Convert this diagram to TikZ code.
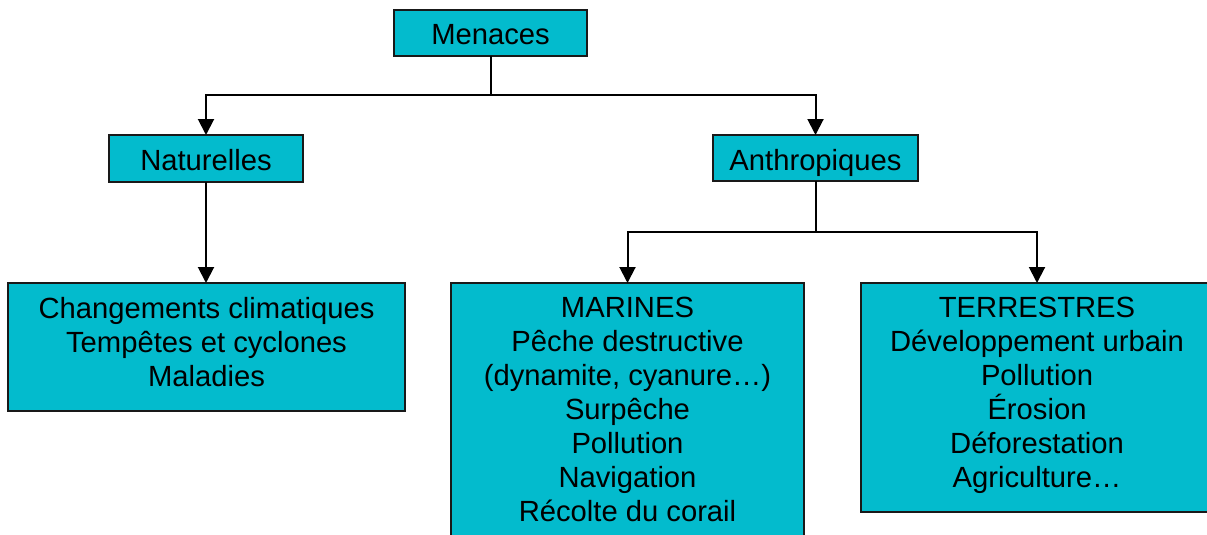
\documentclass[tikz,border=0pt]{standalone}
\usepackage{fontspec}
\setmainfont{Liberation Sans}
\usetikzlibrary{arrows.meta}
\definecolor{boxcyan}{RGB}{3,187,205}
\tikzset{
  box/.style={draw=black!90, line width=1.8pt, fill=boxcyan, inner sep=0pt, outer sep=0pt, anchor=north west},
  lbl/.style={font=\fontsize{29.2}{34}\selectfont, align=center, inner sep=0pt, anchor=north},
  conn/.style={line width=2pt, -{Triangle[width=16pt,length=16pt]}}
}
\begin{document}
\begin{tikzpicture}[x=1pt,y=-1pt]
\useasboundingbox (0,0) rectangle (1207,535);
\clip (0,0) rectangle (1207,535);
\fill[white] (0,0) rectangle (1207,535);
% boxes
\node[box, minimum width=193pt, minimum height=46pt] (m) at (394,10) {};
\node[box, minimum width=194pt, minimum height=47pt] (nat) at (109,135) {};
\node[box, minimum width=205pt, minimum height=46pt] (anth) at (713,135) {};
\node[box, minimum width=397pt, minimum height=128pt] (chg) at (8,283) {};
\node[box, minimum width=353pt, minimum height=270pt] (mar) at (451,283) {};
\node[box, minimum width=352pt, minimum height=229pt] (ter) at (861,283) {};
% labels
\node[lbl] (mt) at (490.5,24) {Menaces};
\node[lbl] (natt) at (206,149) {Naturelles};
\node[lbl] (antht) at (815.5,149) {Anthropiques};
\node[lbl] (chgt) at (206.5,297.5) {Changements climatiques\\Tempêtes et cyclones\\Maladies};
\node[lbl] (mart) at (627.5,297) {MARINES\\Pêche destructive\\(dynamite, cyanure…)\\Surpêche\\Pollution\\Navigation\\Récolte du corail};
\node[lbl] (tert) at (1037,297) {TERRESTRES\\Développement urbain\\Pollution\\Érosion\\Déforestation\\Agriculture…};
% connectors
\draw[conn] (m.south) -- ++(0,39) -| (nat.north);
\draw[conn] (m.south) -- ++(0,39) -| (anth.north);
\draw[conn] (nat.south) -- (nat.south |- chg.north);
\draw[conn] (anth.south) -- ++(0,51) -| (mar.north);
\draw[conn] (anth.south) -- ++(0,51) -| (ter.north);
\end{tikzpicture}
\end{document}
